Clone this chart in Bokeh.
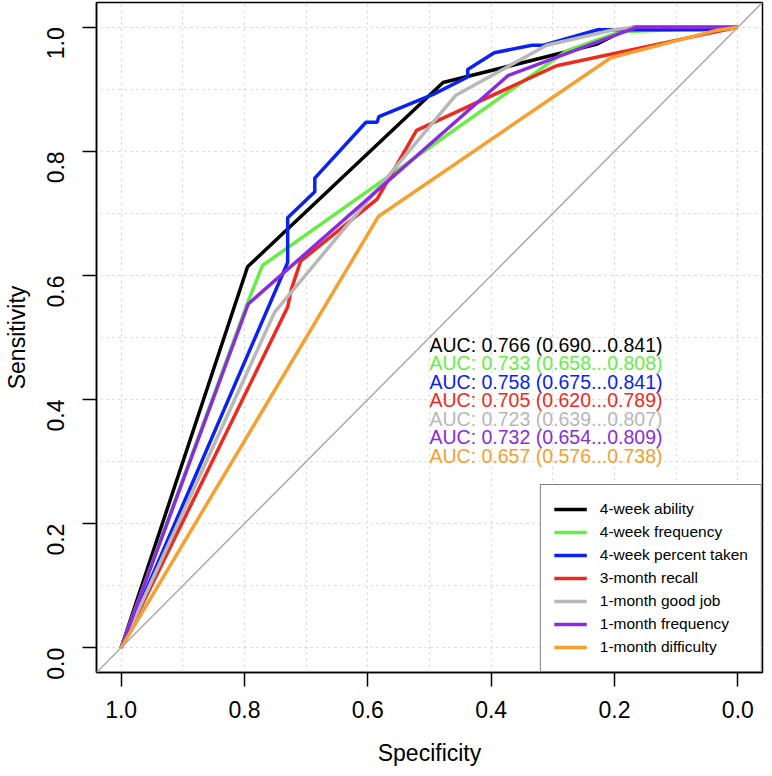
import math
from bokeh.plotting import figure
from bokeh.models import (Range1d, FixedTicker, Slope, Legend, LegendItem,
                          ColumnDataSource, NumeralTickFormatter)
from bokeh.core.properties import value
from bokeh.embed import file_html
from bokeh.resources import INLINE

# ---------------- data ----------------
labels = ["4-week ability", "4-week frequency", "4-week percent taken",
          "3-month recall", "1-month good job", "1-month frequency",
          "1-month difficulty"]
colors = ["#000000", "#66EE44", "#0A22F2", "#EE2A1E", "#B8B8B8",
          "#8A2BE2", "#F5A030"]

spec_ability = [1.0, 0.795, 0.478, 0.228, 0.193, 0.17, 0.0]
sens_ability = [0.0, 0.614, 0.911, 0.973, 0.991, 1.0, 1.0]

spec_freq4 = [1.0, 0.795, 0.771, 0.278, 0.19, 0.0]
sens_freq4 = [0.0, 0.556, 0.616, 0.962, 0.993, 1.0]

spec_pct = [1.0, 0.73, 0.73, 0.686, 0.686, 0.603, 0.585, 0.582, 0.494,
            0.438, 0.438, 0.395, 0.334, 0.315, 0.227, 0.06, 0.0]
sens_pct = [0.0, 0.621, 0.693, 0.735, 0.757, 0.847, 0.847, 0.856, 0.892,
            0.920, 0.932, 0.959, 0.971, 0.971, 0.996, 0.996, 1.0]

spec_recall = [1.0, 0.73, 0.724, 0.709, 0.585, 0.521, 0.294, 0.053, 0.0]
sens_recall = [0.0, 0.549, 0.578, 0.623, 0.723, 0.834, 0.938, 0.989, 1.0]

spec_good = [1.0, 0.751, 0.458, 0.31, 0.201, 0.17, 0.0]
sens_good = [0.0, 0.541, 0.890, 0.971, 0.996, 1.0, 1.0]

spec_freq1 = [1.0, 0.794, 0.373, 0.165, 0.0]
sens_freq1 = [0.0, 0.554, 0.922, 1.0, 1.0]

spec_diff = [1.0, 0.583, 0.206, 0.035, 0.0]
sens_diff = [0.0, 0.695, 0.951, 0.995, 1.0]

auc = [0.766, 0.733, 0.758, 0.705, 0.723, 0.732, 0.657]
ci_low = [0.690, 0.658, 0.675, 0.620, 0.639, 0.654, 0.576]
ci_high = [0.841, 0.808, 0.841, 0.789, 0.807, 0.809, 0.738]

axis_ticks = [0.0, 0.2, 0.4, 0.6, 0.8, 1.0]
grid_ticks = [0.0, 0.1, 0.2, 0.3, 0.4, 0.5, 0.6, 0.7, 0.8, 0.9, 1.0]

specs = [spec_ability, spec_freq4, spec_pct, spec_recall, spec_good, spec_freq1, spec_diff]
senss = [sens_ability, sens_freq4, sens_pct, sens_recall, sens_good, sens_freq1, sens_diff]

FONT = "Liberation Sans"

# ---------------- figure ----------------
p = figure(width=764, height=768,
           x_range=Range1d(1.04, -0.04), y_range=Range1d(-0.04, 1.04),
           output_backend="svg", toolbar_location=None,
           min_border_top=2, min_border_right=2,
           min_border_left=10, min_border_bottom=0)
p.background_fill_color = "white"
p.border_fill_color = "white"
p.outline_line_color = "black"
p.outline_line_width = 1.5

for ax in (p.xaxis[0], p.yaxis[0]):
    ax.ticker = FixedTicker(ticks=axis_ticks)
    ax.formatter = NumeralTickFormatter(format="0.0")
    ax.major_tick_out = 14
    ax.major_tick_in = 0
    ax.minor_tick_out = 0
    ax.minor_tick_in = 0
    ax.major_tick_line_color = "black"
    ax.major_tick_line_width = 1.5
    ax.axis_line_color = "black"
    ax.axis_line_width = 1.5
    ax.major_label_text_font = FONT
    ax.major_label_text_font_size = "23px"
    ax.major_label_text_color = "black"
    ax.axis_label_text_font = FONT
    ax.axis_label_text_font_size = "23px"
    ax.axis_label_text_font_style = "normal"
    ax.axis_label_text_color = "black"

p.xaxis.axis_label = "Specificity"
p.yaxis.axis_label = "Sensitivity"
p.xaxis.major_label_standoff = 14
p.xaxis.axis_label_standoff = 19
p.yaxis.major_label_standoff = 27
p.yaxis.axis_label_standoff = 6
p.yaxis.major_label_orientation = math.pi / 2

for g in (p.xgrid[0], p.ygrid[0]):
    g.ticker = FixedTicker(ticks=grid_ticks)
    g.grid_line_color = "#d2d2d2"
    g.grid_line_dash = "2 4"
    g.grid_line_width = 1.2

# diagonal reference line
p.add_layout(Slope(gradient=-1, y_intercept=1, line_color="#A8A8A8", line_width=1.5))

items = []
for lab, col, sx, sy in zip(labels, colors, specs, senss):
    src = ColumnDataSource(dict(x=sx, y=sy))
    r = p.line("x", "y", source=src, line_color=col, line_width=3.5)
    items.append(LegendItem(label=lab, renderers=[r]))

# AUC text
auc_text = [f"AUC: {a:.3f} ({lo:.3f}...{hi:.3f})" for a, lo, hi in zip(auc, ci_low, ci_high)]
tsrc = ColumnDataSource(dict(
    x=[0.5] * len(auc_text),
    y=[0.488 - 0.0298 * i for i in range(len(auc_text))],
    t=auc_text, c=colors))
p.text("x", "y", text="t", source=tsrc, text_color="c",
       text_font=value(FONT), text_font_size="19.5px",
       text_align="left", text_baseline="middle")

legend = Legend(items=items, location="bottom_right", margin=0,
                border_line_color="black", border_line_width=1.5,
                background_fill_color="white", background_fill_alpha=1.0,
                padding=13, spacing=1, glyph_width=33, glyph_height=22,
                label_height=22, label_standoff=13,
                label_text_font=FONT, label_text_font_size="15.5px",
                label_text_color="black")
p.add_layout(legend)

open("out.html", "w").write(file_html(p, INLINE))
